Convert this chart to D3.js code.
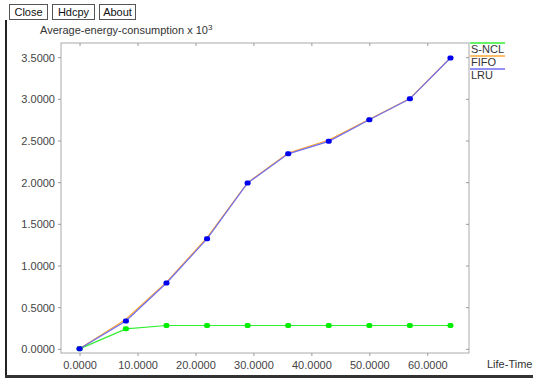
<!DOCTYPE html>
<html>
<head>
<meta charset="utf-8">
<script src="https://cdn.jsdelivr.net/npm/d3@7"></script>
<style>
  body { margin: 0; background: #fff; }
  svg text { font-family: "Liberation Sans", Arial, sans-serif; }
</style>
</head>
<body>
<script>
const lifeTime = [0, 8, 15, 22, 29, 36, 43, 50, 57, 64];
const sncl = [0, 0.24, 0.28, 0.28, 0.28, 0.28, 0.28, 0.28, 0.28, 0.28];
const fifo = [0, 0.355, 0.80, 1.335, 1.995, 2.35, 2.505, 2.755, 3.005, 3.495];
const lru = [0, 0.335, 0.79, 1.32, 1.99, 2.34, 2.49, 2.75, 3.00, 3.49];
const seriesNames = ["S-NCL", "FIFO", "LRU"];
const seriesColors = ["#33ee33", "#ffa733", "#6f6cf0"];
const xTicks = [0, 10, 20, 30, 40, 50, 60];
const yTicks = [0, 0.5, 1, 1.5, 2, 2.5, 3, 3.5];
const buttons = ["Close", "Hdcpy", "About"];

const w = 533, h = 378;
const svg = d3.select("body").append("svg")
  .attr("width", w)
  .attr("height", h);

// window frame
svg.append("rect").attr("x", 5).attr("y", 20).attr("width", 2).attr("height", 358).attr("fill", "#222");
svg.append("rect").attr("x", 5).attr("y", 375).attr("width", 528).attr("height", 3).attr("fill", "#333");

// buttons
const bw = [38, 42, 36];
let bx = 9;
buttons.forEach((b, i) => {
  svg.append("rect").attr("x", bx + 0.5).attr("y", 4.5).attr("width", bw[i]).attr("height", 15)
    .attr("fill", "#fff").attr("stroke", "#555");
  svg.append("text").attr("x", bx + bw[i] / 2 + 0.5).attr("y", 16).attr("text-anchor", "middle")
    .attr("font-size", 11).attr("fill", "#111").text(b);
  bx += bw[i] + 5;
});

const x = d3.scaleLinear().domain([-3.2, 67.2]).range([61, 469]);
const y = d3.scaleLinear().domain([-0.05, 3.67]).range([353, 43]);

// plot frame
svg.append("rect").attr("x", 61).attr("y", 43).attr("width", 408).attr("height", 310)
  .attr("fill", "none").attr("stroke", "#aaa");

const yAxis = svg.append("g").attr("transform", "translate(61,0)")
  .call(d3.axisLeft(y).tickValues(yTicks).tickSize(3).tickFormat(d3.format(".4f")));
const xAxis = svg.append("g").attr("transform", "translate(0,353)")
  .call(d3.axisBottom(x).tickValues(xTicks).tickSize(3).tickFormat(d3.format(".4f")));
svg.append("g").attr("transform", "translate(0,43)")
  .call(d3.axisTop(x).tickValues(xTicks).tickSize(-3).tickFormat(""));
svg.append("g").attr("transform", "translate(469,0)")
  .call(d3.axisRight(y).tickValues(yTicks).tickSize(-3).tickFormat(""));
svg.selectAll(".domain").remove();
svg.selectAll(".tick line").attr("stroke", "#999");
yAxis.selectAll("text").attr("font-size", 11).attr("fill", "#444").attr("dy", "0.35em");
xAxis.selectAll("text").attr("font-size", 11).attr("fill", "#444").attr("dy", "0.9em");

// title
const title = svg.append("text").attr("x", 40).attr("y", 34).attr("font-size", 11).attr("fill", "#333")
  .text("Average-energy-consumption x 10");
title.append("tspan").attr("dy", -4).attr("font-size", 8).text("3");

svg.append("text").attr("x", 487).attr("y", 368).attr("font-size", 11).attr("fill", "#333").text("Life-Time");

// lines
const allSeries = [sncl, fifo, lru];
const line = d3.line().x((d, i) => x(lifeTime[i])).y(d => y(d));
allSeries.forEach((s, k) => {
  svg.append("path").datum(s).attr("d", line).attr("fill", "none")
    .attr("stroke", seriesColors[k]).attr("stroke-width", 1.2);
});

// markers
[sncl, lru].forEach((s, k) => {
  svg.append("g").selectAll("rect").data(s).enter().append("rect")
    .attr("x", (d, i) => x(lifeTime[i]) - 3)
    .attr("y", d => y(d) - 2.5)
    .attr("width", 6).attr("height", 5).attr("rx", 2)
    .attr("fill", k === 0 ? "#00ee00" : "#0000ee");
});

// legend
seriesNames.forEach((n, i) => {
  const ly = 43 + i * 13;
  svg.append("line").attr("x1", 470).attr("x2", 505).attr("y1", ly).attr("y2", ly)
    .attr("stroke", seriesColors[i]).attr("stroke-width", 1.5);
  svg.append("text").attr("x", 471).attr("y", ly + 10).attr("font-size", 11).attr("fill", "#333").text(n);
});
</script>
</body>
</html>
